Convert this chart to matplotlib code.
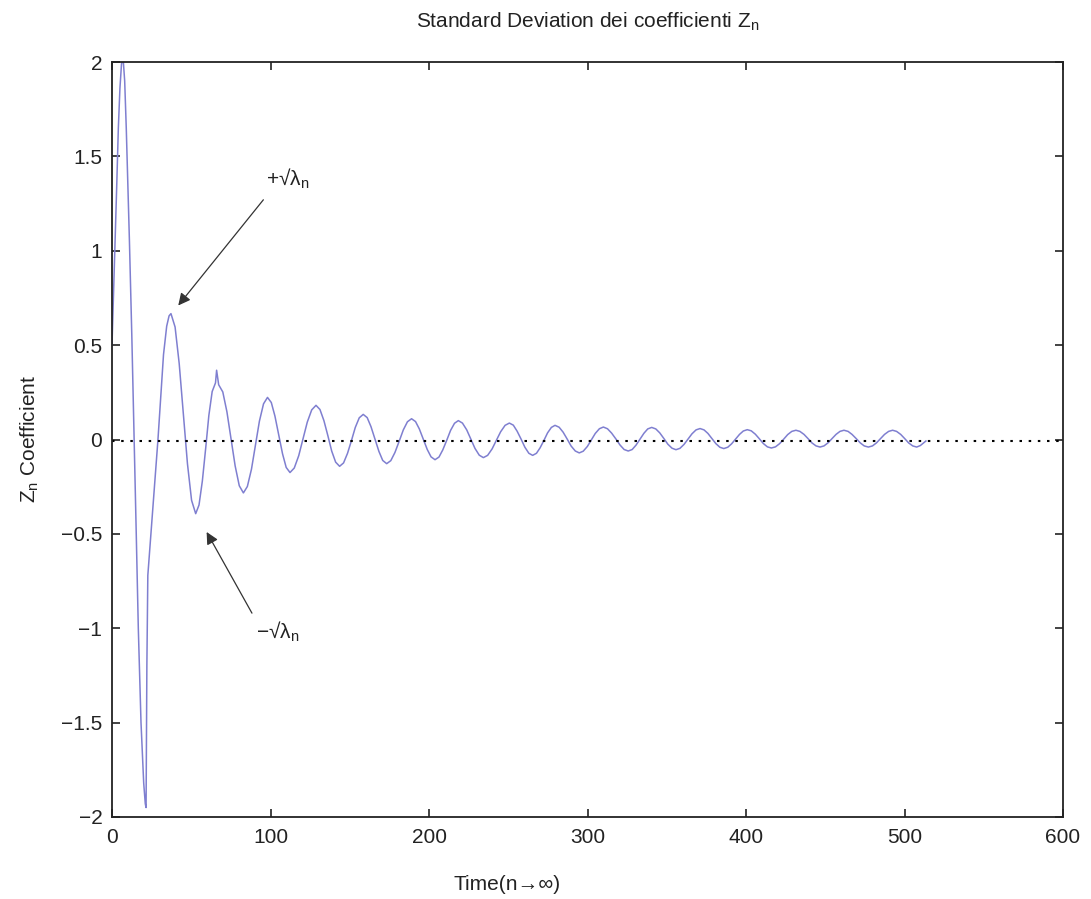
import matplotlib
matplotlib.use('Agg')
from matplotlib import pyplot as plt

plt.rcParams['font.family'] = ['Liberation Sans', 'DejaVu Sans']
plt.rcParams['mathtext.fontset'] = 'custom'
plt.rcParams['mathtext.rm'] = 'Liberation Sans'
plt.rcParams['mathtext.it'] = 'Liberation Sans'

# Z_n coefficient trace, one row per half swing
time_n = [0, 1, 2, 3, 4, 5, 6, 7, 8, 9, 10, 11, 12.5, 14, 15.3, 16.6, 18.3, 20,
          21, 21.5, 22, 22.6, 25, 29, 32.5, 34.5, 36, 37.2,
          39.8, 42.4, 45.0, 47.6, 50.2, 52.8,
          54.9, 57.0, 59.1, 61.1, 63.2, 65.3, 66.0, 67.3,
          69.9, 72.5, 75.1, 77.7, 80.3, 82.9,
          85.4, 88.0, 90.5, 93.0, 95.6, 98.1,
          100.5, 102.8, 105.2, 107.6, 109.9, 112.3,
          115.0, 117.8, 120.5, 123.2, 126.0, 128.7,
          131.2, 133.7, 136.2, 138.6, 141.1, 143.6,
          146.1, 148.6, 151.1, 153.5, 156.0, 158.5,
          161.0, 163.4, 165.9, 168.4, 170.8, 173.3,
          175.9, 178.5, 181.2, 183.8, 186.4, 189.0,
          191.5, 193.9, 196.4, 198.9, 201.3, 203.8,
          206.3, 208.7, 211.2, 213.6, 216.1, 218.5,
          221.1, 223.8, 226.4, 229.0, 231.7, 234.3,
          237.0, 239.8, 242.5, 245.2, 248.0, 250.7,
          253.2, 255.6, 258.1, 260.5, 263.0, 265.4,
          267.8, 270.1, 272.5, 274.8, 277.2, 279.5,
          282.1, 284.6, 287.2, 289.7, 292.3, 294.8,
          297.3, 299.9, 302.4, 304.9, 307.5, 310.0,
          312.6, 315.2, 317.9, 320.5, 323.1, 325.7,
          328.2, 330.6, 333.1, 335.6, 338.0, 340.5,
          343.1, 345.6, 348.2, 350.7, 353.3, 355.8,
          358.3, 360.9, 363.4, 365.9, 368.5, 371.0,
          373.5, 376.0, 378.5, 381.0, 383.5, 386.0,
          388.5, 390.9, 393.4, 395.9, 398.3, 400.8,
          403.3, 405.9, 408.4, 410.9, 413.5, 416.0,
          418.6, 421.2, 423.8, 426.3, 428.9, 431.5,
          434.0, 436.6, 439.1, 441.6, 444.2, 446.7,
          449.2, 451.7, 454.3, 456.8, 459.3, 461.8,
          464.4, 466.9, 469.5, 472.1, 474.6, 477.2,
          479.8, 482.3, 484.9, 487.4, 490.0, 492.5,
          495.0, 497.6, 500.1, 502.6, 505.2, 507.7,
          510.0, 512.0, 513.5]

z_coef = [0.50, 0.78, 1.05, 1.35, 1.65, 1.86, 1.99, 2.02, 1.90, 1.65, 1.35, 1.05,
          0.55, 0.0, -0.5, -1.0, -1.5, -1.82, -1.93, -1.95, -1.2, -0.72, -0.45,
          0.0, 0.45, 0.60, 0.655, 0.667,
          0.596, 0.402, 0.137, -0.128, -0.322, -0.393,
          -0.347, -0.220, -0.047, 0.127, 0.254, 0.300, 0.367, 0.290,
          0.252, 0.147, 0.004, -0.140, -0.245, -0.283,
          -0.249, -0.157, -0.030, 0.097, 0.189, 0.223,
          0.196, 0.124, 0.024, -0.076, -0.148, -0.175,
          -0.151, -0.086, 0.003, 0.092, 0.157, 0.181,
          0.159, 0.100, 0.020, -0.061, -0.120, -0.142,
          -0.124, -0.073, -0.005, 0.064, 0.115, 0.133,
          0.116, 0.068, 0.003, -0.063, -0.111, -0.128,
          -0.112, -0.069, -0.009, 0.051, 0.094, 0.110,
          0.095, 0.056, 0.002, -0.053, -0.092, -0.107,
          -0.093, -0.055, -0.004, 0.048, 0.086, 0.100,
          0.087, 0.051, 0.002, -0.047, -0.083, -0.096,
          -0.084, -0.050, -0.005, 0.041, 0.075, 0.087,
          0.076, 0.044, 0.002, -0.041, -0.073, -0.084,
          -0.073, -0.044, -0.005, 0.035, 0.064, 0.075,
          0.065, 0.039, 0.002, -0.035, -0.061, -0.071,
          -0.062, -0.037, -0.003, 0.032, 0.057, 0.066,
          0.057, 0.034, 0.003, -0.029, -0.053, -0.061,
          -0.053, -0.030, 0.002, 0.033, 0.056, 0.064,
          0.056, 0.035, 0.005, -0.025, -0.046, -0.054,
          -0.047, -0.026, 0.002, 0.030, 0.051, 0.058,
          0.051, 0.032, 0.005, -0.022, -0.041, -0.048,
          -0.041, -0.023, 0.002, 0.027, 0.045, 0.052,
          0.046, 0.028, 0.004, -0.021, -0.039, -0.045,
          -0.039, -0.022, 0.002, 0.026, 0.043, 0.049,
          0.043, 0.027, 0.005, -0.018, -0.034, -0.040,
          -0.034, -0.018, 0.005, 0.027, 0.043, 0.049,
          0.043, 0.027, 0.005, -0.018, -0.034, -0.040,
          -0.034, -0.018, 0.005, 0.027, 0.043, 0.049,
          0.043, 0.027, 0.005, -0.018, -0.034, -0.040,
          -0.032, -0.018, -0.008]

# reference (mean) level
ref_x = [0, 600]
ref_y = [-0.01, -0.01]

x_ticks = [0, 100, 200, 300, 400, 500, 600]
y_ticks = [-2, -1.5, -1, -0.5, 0, 0.5, 1, 1.5, 2]
y_ticklabels = ['\u22122', '\u22121.5', '\u22121', '\u22120.5', '0', '0.5', '1', '1.5', '2']

# annotations: text, text position, arrow tail and head
plus_label = '+\u221a\u03bb$_\\mathrm{n}$'
plus_text_xy = (97, 1.38)
plus_head_xy = (41.8, 0.71)
plus_tail_xy = (95.5, 1.27)
minus_label = '\u2212\u221a\u03bb$_\\mathrm{n}$'
minus_text_xy = (91, -1.02)
minus_head_xy = (59.7, -0.49)
minus_tail_xy = (88.3, -0.92)

fs = 15
ink = '#222222'

fig = plt.figure(figsize=(10.91, 8.99), dpi=100)
ax = fig.add_axes([112/1091, 1 - 817/899, 951/1091, 755/899])

ax.plot(time_n, z_coef, color='#7f7fd0', lw=1.1)
ax.plot(ref_x, ref_y, color='k', lw=1.5, linestyle=(0, (1.2, 3.2)))

ax.set_xlim(0, 600)
ax.set_ylim(-2, 2)
ax.set_xticks(x_ticks)
ax.set_yticks(y_ticks)
ax.set_yticklabels(y_ticklabels)
ax.tick_params(direction='in', length=6, width=1.2, top=True, right=True,
               labelsize=fs, color=ink, labelcolor=ink)
ax.tick_params(axis='x', pad=8)
ax.tick_params(axis='y', pad=7)
for sp in ax.spines.values():
    sp.set_linewidth(1.3)
    sp.set_color(ink)

# arrows pointing at the envelope
ax.annotate('', xy=plus_head_xy, xytext=plus_tail_xy,
            arrowprops=dict(arrowstyle='-|>', color='#333333', lw=0.9,
                            mutation_scale=18, shrinkA=0, shrinkB=0))
ax.annotate('', xy=minus_head_xy, xytext=minus_tail_xy,
            arrowprops=dict(arrowstyle='-|>', color='#333333', lw=0.9,
                            mutation_scale=18, shrinkA=0, shrinkB=0))
ax.text(plus_text_xy[0], plus_text_xy[1], plus_label, fontsize=fs,
        color=ink, ha='left', va='center')
ax.text(minus_text_xy[0], minus_text_xy[1], minus_label, fontsize=fs,
        color=ink, ha='left', va='center')

ax.text(0.5, 1 + 40/755, 'Standard Deviation dei coefficienti Z$_\\mathrm{n}$',
        transform=ax.transAxes, ha='center', va='center', fontsize=fs,
        color=ink)

ax.set_xlabel('Time(n\u2192\u221e)', fontsize=fs, color=ink)
ax.xaxis.set_label_coords((507 - 112)/951, -(885 - 817)/755)
ax.xaxis.label.set_va('center')
ax.set_ylabel('Z$_\\mathrm{n}$ Coefficient', fontsize=fs, color=ink)
ax.yaxis.set_label_coords(-(112 - 30)/951, 0.5)
ax.yaxis.label.set_va('center')

fig.savefig('out.png', dpi=100)
